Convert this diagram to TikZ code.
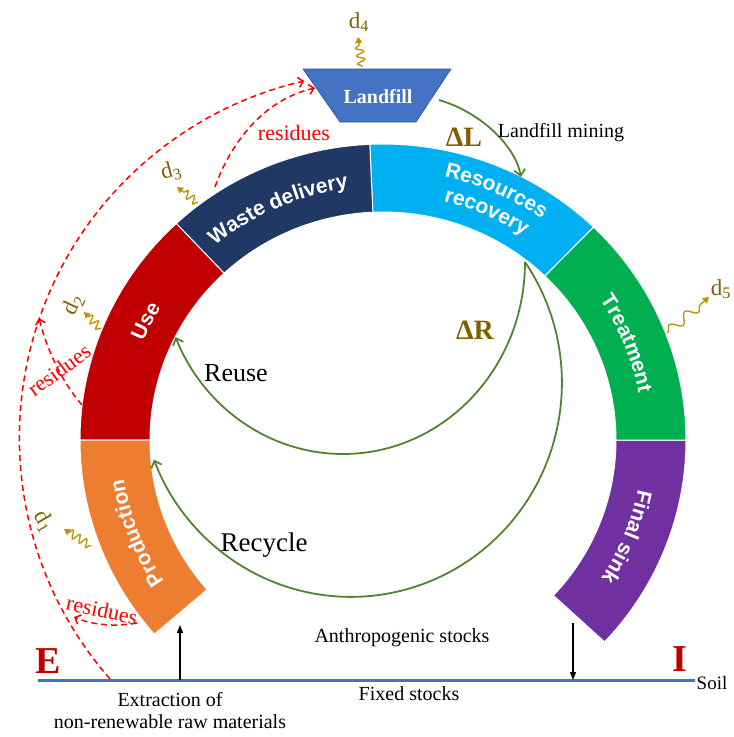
\documentclass[tikz,border=0pt]{standalone}
\usepackage{fontspec}
\setmainfont{Liberation Serif}
\newfontfamily\arialf{Liberation Sans}
\usetikzlibrary{arrows.meta,decorations.pathmorphing,decorations.text,calc}
\definecolor{cFinal}{HTML}{7030A0}
\definecolor{cTreat}{HTML}{00B050}
\definecolor{cRes}{HTML}{00B0F0}
\definecolor{cWaste}{HTML}{203864}
\definecolor{cUse}{HTML}{C00000}
\definecolor{cProd}{HTML}{ED7D31}
\definecolor{cLand}{HTML}{4472C4}
\definecolor{cLandEdge}{HTML}{2F528F}
\definecolor{cGreen}{HTML}{548235}
\definecolor{cGold}{HTML}{BF9000}
\definecolor{cDtext}{HTML}{7F6000}
\definecolor{cRed}{HTML}{FF0000}
\newcommand\ringfont{\arialf\bfseries\fontsize{21}{24}\selectfont}
\begin{document}
\begin{tikzpicture}[x=1pt,y=1pt,
  seg/.style={draw=white, line width=1pt},
  ringtxt/.style={decorate, decoration={text along path, text align=center, text color=white}},
  garrow/.style={draw=cGreen, line width=1.8pt, -{Straight Barb[length=6pt,width=11pt]}},
  rdash/.style={draw=cRed, line width=1.5pt, dash pattern=on 6pt off 4pt, -{Straight Barb[length=5pt,width=10pt]}},
  snk/.style={draw=cGold, line width=1.3pt, decorate, decoration={snake, amplitude=4pt, segment length=8pt, pre length=1pt, post length=5pt}, -{Triangle[length=6pt,width=7pt]}},
  lbl/.style={inner sep=0pt, font=\fontsize{20}{22}\selectfont},
  dlbl/.style={inner sep=0pt, text=cDtext, font=\fontsize{23}{25}\selectfont},
  rlbl/.style={inner sep=0pt, text=cRed, font=\fontsize{22}{24}\selectfont},
  dellbl/.style={inner sep=0pt, text=cDtext, font=\bfseries\fontsize{28}{30}\selectfont},
  bigl/.style={inner sep=0pt, text=cUse, font=\bfseries\fontsize{38}{40}\selectfont},
  barrow/.style={draw=black, line width=1.4pt, -{Triangle[length=8pt,width=6pt]}},
]
\useasboundingbox (0,0) rectangle (734,-737);
\coordinate (C) at (383,-440);

% ring segments
\foreach \c/\a/\b in {cFinal/-43/0, cTreat/0/46, cRes/46/92.5, cWaste/92.5/133, cUse/133/180, cProd/180/221}{
  \fill[\c, seg] ($(C)+(\a:303 and 296)$) arc[start angle=\a, end angle=\b, x radius=303, y radius=296]
     -- ($(C)+(\b:233 and 228)$) arc[start angle=\b, end angle=\a, x radius=233, y radius=228] -- cycle;
}

% ring labels
\path[ringtxt, decoration={text={|\ringfont|Final sink}}] ($(C)+(3:260 and 254)$) arc[start angle=3, end angle=-47, x radius=260, y radius=254];
\path[ringtxt, decoration={text={|\ringfont|Treatment}}] ($(C)+(47:260 and 254)$) arc[start angle=47, end angle=-3, x radius=260, y radius=254];
\path[ringtxt, decoration={text={|\ringfont|Resources}}] ($(C)+(91:277 and 270)$) arc[start angle=91, end angle=41, x radius=277, y radius=270];
\path[ringtxt, decoration={text={|\ringfont|recovery}}] ($(C)+(91:252 and 246)$) arc[start angle=91, end angle=41, x radius=252, y radius=246];
\path[ringtxt, decoration={text={|\ringfont|Waste delivery}}] ($(C)+(139:260 and 254)$) arc[start angle=139, end angle=89, x radius=260, y radius=254];
\path[ringtxt, decoration={text={|\ringfont|Use}}] ($(C)+(178:260 and 254)$) arc[start angle=178, end angle=128, x radius=260, y radius=254];
\path[ringtxt, decoration={text={|\ringfont|Production}}] ($(C)+(226:262 and 256)$) arc[start angle=226, end angle=176, x radius=262, y radius=256];

% landfill
\filldraw[fill=cLand, draw=cLandEdge, line width=0.6pt] (303,-69) -- (451,-69) -- (416,-122) -- (340,-122) -- cycle;
\node[inner sep=0pt, text=white, font=\bfseries\fontsize{20}{22}\selectfont] (landfill) at (378,-97) {Landfill};

% soil line
\coordinate (sl) at (38,-680);
\coordinate (sr) at (695,-680);
\draw[draw=cLand, line width=3pt] (sl) -- (sr);
\node[bigl] (E) at (48,-661) {E};
\node[bigl] (I) at (680,-659) {I};
\node[inner sep=0pt, font=\fontsize{19}{21}\selectfont] (soil) at (712,-683) {Soil};

% black arrows
\coordinate (ex0) at (180,-680);
\coordinate (ex1) at (180,-625);
\draw[barrow] (ex0) -- (ex1);
\coordinate (fs0) at (573,-623);
\coordinate (fs1) at (573,-680);
\draw[barrow] (fs0) -- (fs1);

% bottom labels
\node[lbl] (anthro) at (402,-638) {Anthropogenic stocks};
\node[lbl] (fixed) at (409,-694) {Fixed stocks};
\node[lbl] (extr1) at (170,-700) {Extraction of};
\node[lbl] (extr2) at (170,-722) {non-renewable raw materials};

% green arrows
\coordinate (lm0) at (439,-100);
\coordinate (lm1) at (521,-177);
\draw[garrow] (lm0) .. controls (480,-112) and (515,-145) .. (lm1);
\node[lbl] (lmtext) at (561,-133) {Landfill mining};
\node[dellbl] (dL) at (464,-137) {ΔL};

\coordinate (rr) at (525,-262);
\draw[garrow] (rr) arc[start angle=0, end angle=-157, x radius=182, y radius=192];
\draw[garrow] (rr) arc[start angle=34.4, end angle=-159, x radius=211, y radius=214];
\node[dellbl] (dR) at (475,-330) {ΔR};
\node[inner sep=0pt, font=\fontsize{26}{28}\selectfont] (reuse) at (236,-373) {Reuse};
\node[inner sep=0pt, font=\fontsize{27}{29}\selectfont] (recycle) at (264,-545) {Recycle};

% red dashed residues
\coordinate (ws) at (215,-187);
\coordinate (we) at (315,-88);
\draw[rdash] (ws) .. controls (230,-145) and (262,-100) .. (we);
\node[rlbl] (res1) at (294,-133) {residues};

\coordinate (bs) at (110,-679);
\draw[rdash] (bs) arc[start angle=221.2, end angle=102.8, radius=366];

\coordinate (us) at (82,-405);
\coordinate (ue) at (39,-318);
\draw[rdash] (us) .. controls (62,-382) and (47,-350) .. (ue);
\node[rlbl, rotate=36] (res2) at (59,-370) {residues};

\coordinate (ps) at (137,-623);
\coordinate (pe) at (74,-617);
\draw[rdash] (ps) .. controls (115,-627) and (92,-625) .. (pe);
\node[rlbl, rotate=-12] (res3) at (102,-610) {residues};

% dissipation arrows
\coordinate (d4s) at (362,-67);  \coordinate (d4e) at (358,-37);
\draw[snk] (d4s) -- (d4e);
\node[dlbl] (d4) at (359,-22) {d\textsubscript{4}};

\coordinate (d3s) at (198,-203); \coordinate (d3e) at (177,-187);
\draw[snk] (d3s) -- (d3e);
\node[dlbl, rotate=15] (d3) at (171,-171) {d\textsubscript{3}};

\coordinate (d2s) at (101,-329); \coordinate (d2e) at (84,-312);
\draw[snk] (d2s) -- (d2e);
\node[dlbl, rotate=65] (d2) at (73,-305) {d\textsubscript{2}};

\coordinate (d1s) at (91,-546); \coordinate (d1e) at (64,-529);
\draw[snk] (d1s) -- (d1e);
\node[dlbl, rotate=-60] (d1) at (44,-521) {d\textsubscript{1}};

\coordinate (d5s) at (667,-333); \coordinate (d5e) at (709,-297);
\draw[snk, decoration={snake, amplitude=5pt, segment length=20pt, post length=6pt}] (d5s) -- (d5e);
\node[dlbl] (d5) at (721,-289) {d\textsubscript{5}};
\end{tikzpicture}
\end{document}
